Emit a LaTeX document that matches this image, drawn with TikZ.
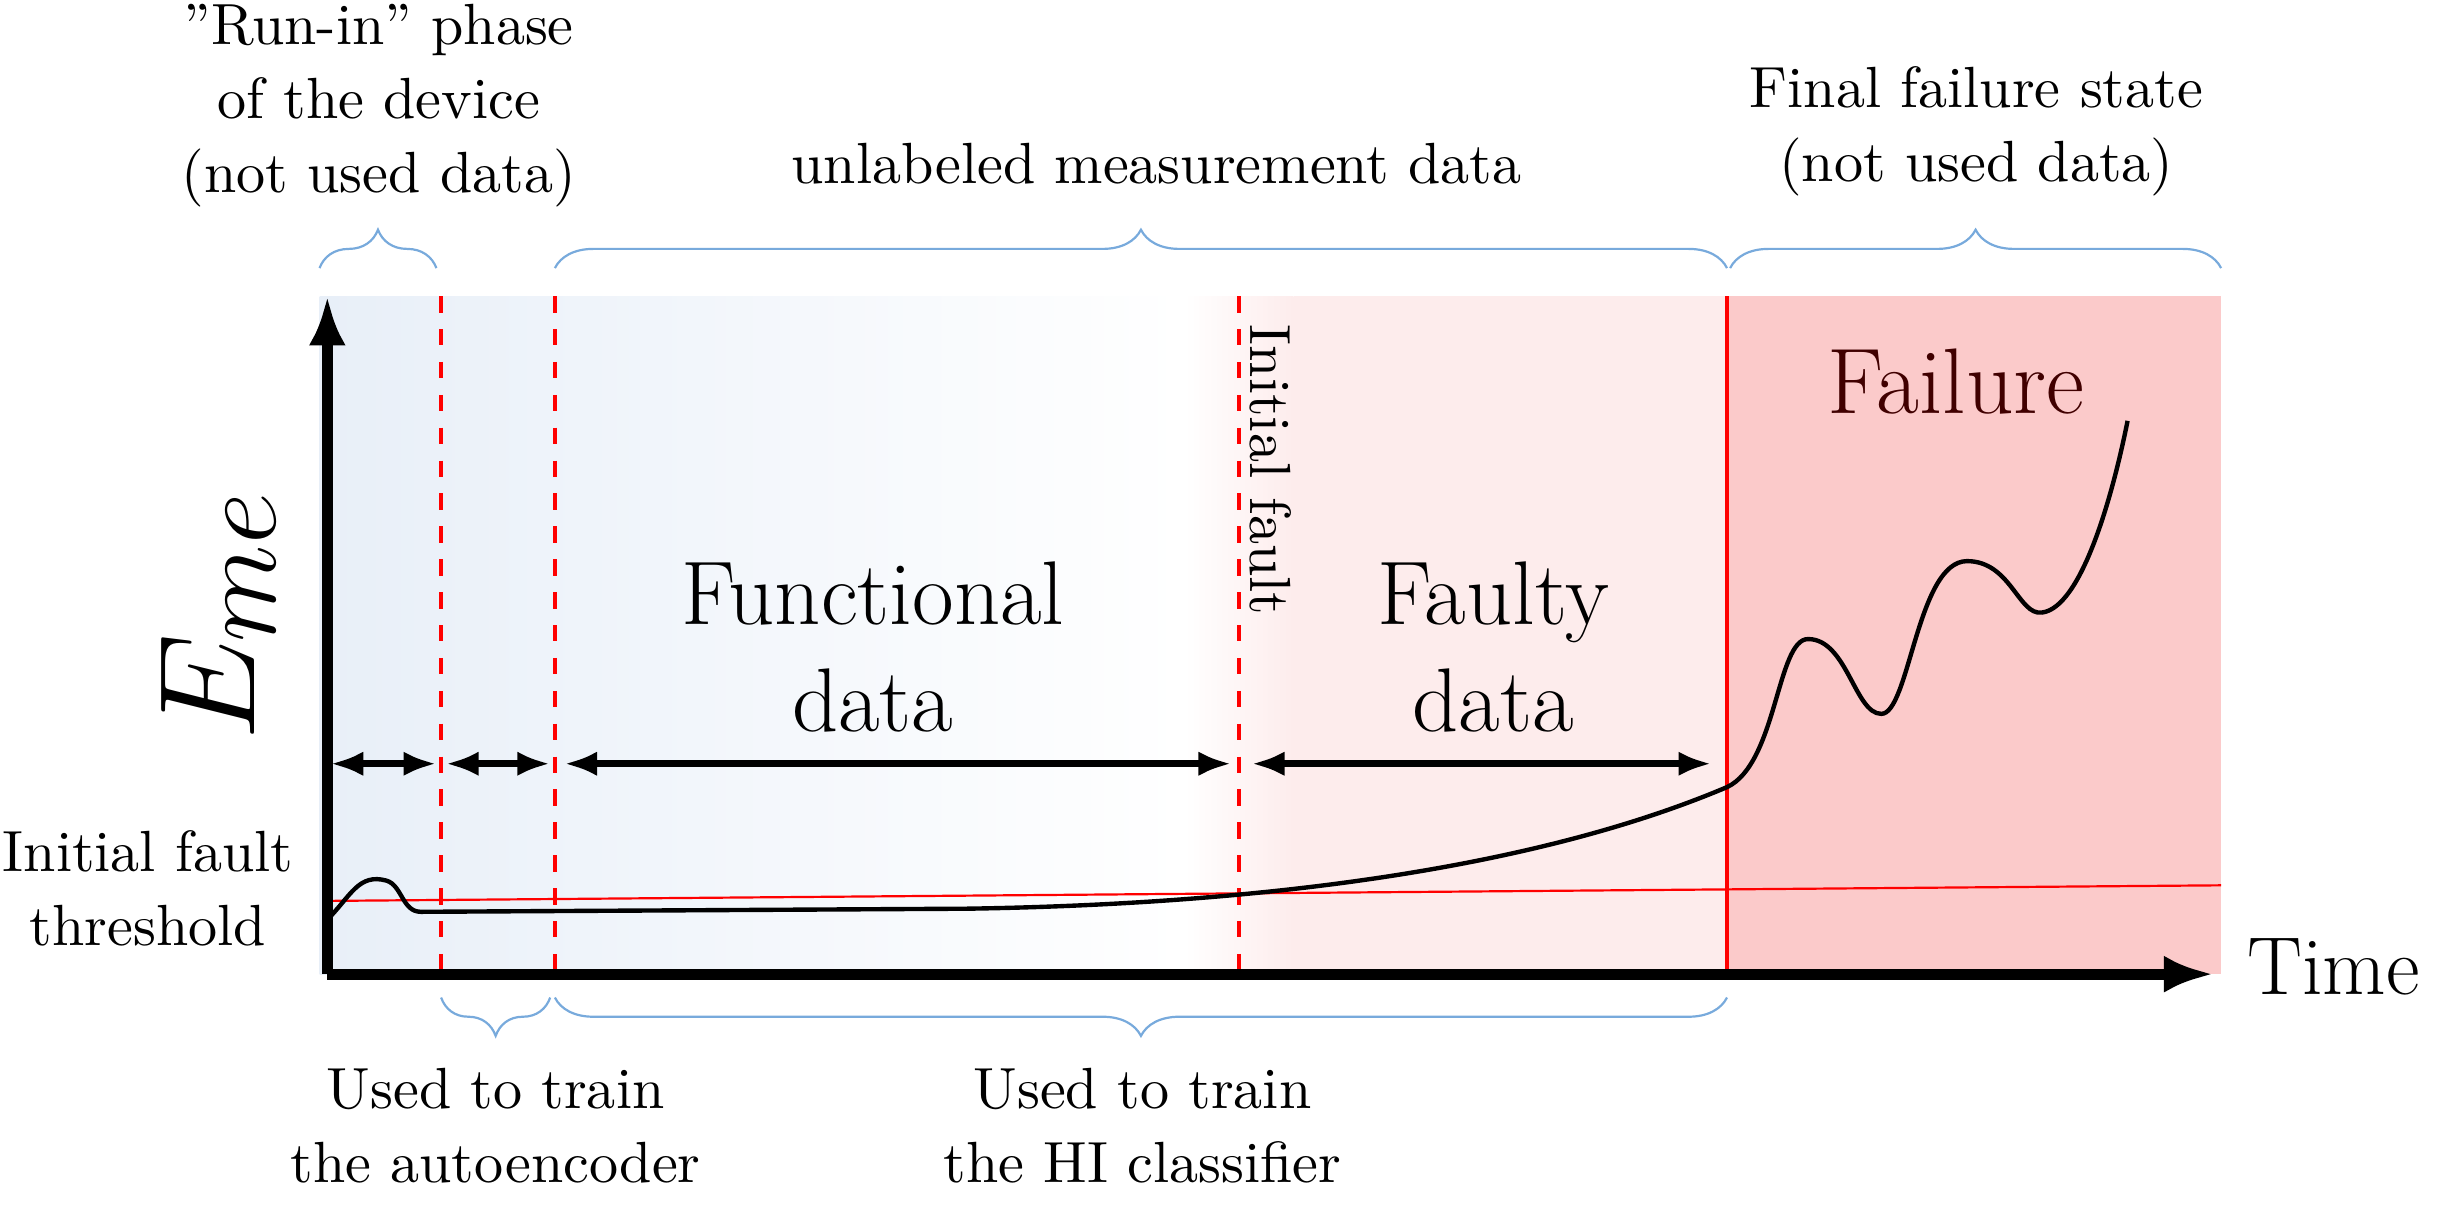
\documentclass[tikz,border=0pt]{standalone}
\usetikzlibrary{decorations.pathreplacing,arrows.meta}
\definecolor{braceBlue}{RGB}{120,170,220}
\definecolor{failPink}{RGB}{251,202,202}
\definecolor{faultPink}{RGB}{253,236,236}
\definecolor{runBlue}{RGB}{232,239,248}
\begin{document}
\begin{tikzpicture}
    [x = 0.01cm, y = -0.01cm,
     smallText/.style = {align = center, font = \fontsize{10.6}{13.5}\selectfont},
     bigText/.style = {align = center, font = \fontsize{16.5}{19.5}\selectfont},
     phaseBrace/.style = {decorate, decoration = {brace, amplitude = 7pt},
                          braceBlue, thin},
     splitLine/.style = {red, dashed, thick},
     span/.style = {{Latex[length = 6pt]}-{Latex[length = 6pt]}, very thick},
     axis/.style = {-{Latex[length = 9pt]}, line width = 2pt}]

    \useasboundingbox (0,0) rectangle (1568,776);

    % backgrounds
    \shade [left color = runBlue, right color = white] (205,190) rectangle (760,625);
    \shade [left color = white, right color = faultPink] (760,190) rectangle (830,625);
    \fill [faultPink] (830,190) rectangle (1108,625);
    \fill [failPink] (1108,190) rectangle (1425,625);

    % phase limits
    \coordinate (o) at (210,625);
    \coordinate (a1) at (283,190);  \coordinate (a2) at (283,625);
    \coordinate (b1) at (356,190);  \coordinate (b2) at (356,625);
    \coordinate (c1) at (795,190);  \coordinate (c2) at (795,625);
    \coordinate (d1) at (1108,190); \coordinate (d2) at (1108,625);
    \draw [splitLine] (a1) -- (a2);
    \draw [splitLine] (b1) -- (b2);
    \draw [splitLine] (c1) -- (c2);
    \draw [red, thick] (d1) -- (d2);

    % threshold
    \coordinate (t1) at (210,578);
    \coordinate (t2) at (1425,568);
    \draw [red, thin] (t1) -- (t2);

    % measurement curve
    \draw [thick] (210,590) .. controls (225,575) and (230,560) .. (248,565)
      .. controls (258,568) and (258,585) .. (270,585)
      -- (620,583) .. controls (820,580) and (990,555) .. (1108,505)
      .. controls (1140,490) and (1140,410) .. (1160,410)
      .. controls (1185,410) and (1190,458) .. (1207,458)
      .. controls (1225,458) and (1230,360) .. (1262,360)
      .. controls (1290,360) and (1295,395) .. (1310,393)
      .. controls (1335,390) and (1355,320) .. (1365,270);

    % axes
    \coordinate (yTop) at (210,190);
    \coordinate (xEnd) at (1420,625);
    \draw [axis] (o) -- (yTop);
    \draw [axis] (o) -- (xEnd);

    % spans
    \coordinate (s1) at (212,490);  \coordinate (s2) at (280,490);
    \coordinate (s3) at (286,490);  \coordinate (s4) at (353,490);
    \coordinate (s5) at (362,490);  \coordinate (s6) at (790,490);
    \coordinate (s7) at (803,490);  \coordinate (s8) at (1098,490);
    \draw [span] (s1) -- (s2);
    \draw [span] (s3) -- (s4);
    \draw [span] (s5) -- (s6);
    \draw [span] (s7) -- (s8);

    % braces
    \coordinate (br1) at (205,172);  \coordinate (br2) at (280,172);
    \coordinate (br3) at (356,172);  \coordinate (br4) at (1108,172);
    \coordinate (br5) at (1110,172); \coordinate (br6) at (1425,172);
    \coordinate (br7) at (353,640);  \coordinate (br8) at (283,640);
    \coordinate (br9) at (1108,640); \coordinate (br10) at (356,640);
    \draw [phaseBrace] (br1) -- (br2);
    \draw [phaseBrace] (br3) -- (br4);
    \draw [phaseBrace] (br5) -- (br6);
    \draw [phaseBrace] (br7) -- (br8);
    \draw [phaseBrace] (br9) -- (br10);

    % labels
    \node [smallText] (runIn) at (243,68) {''Run-in'' phase\\of the device\\(not used data)};
    \node [smallText] (unlab) at (742,105) {unlabeled measurement data};
    \node [smallText] (final) at (1268,84) {Final failure state\\(not used data)};
    \node [smallText] (trainAE) at (318,722) {Used to train\\the autoencoder};
    \node [smallText] (trainHI) at (733,722) {Used to train\\the HI classifier};
    \node [smallText] (thresh) at (95,570) {Initial fault\\threshold};
    \node [smallText, rotate = -90, anchor = west] (initFault) at (815,196) {Initial fault};
    \node [bigText] (funcData) at (560,415) {Functional\\data};
    \node [bigText] (faultData) at (958,415) {Faulty\\data};
    \node [text = black!75!red, font = \fontsize{17}{20}\selectfont] (failure) at (1255,245) {Failure};
    \node [font = \fontsize{15}{18}\selectfont] (time) at (1497,620) {Time};
    \node [rotate = 90, font = \fontsize{28}{32}\selectfont] (eme) at (140,395) {$E_{me}$};
\end{tikzpicture}
\end{document}
